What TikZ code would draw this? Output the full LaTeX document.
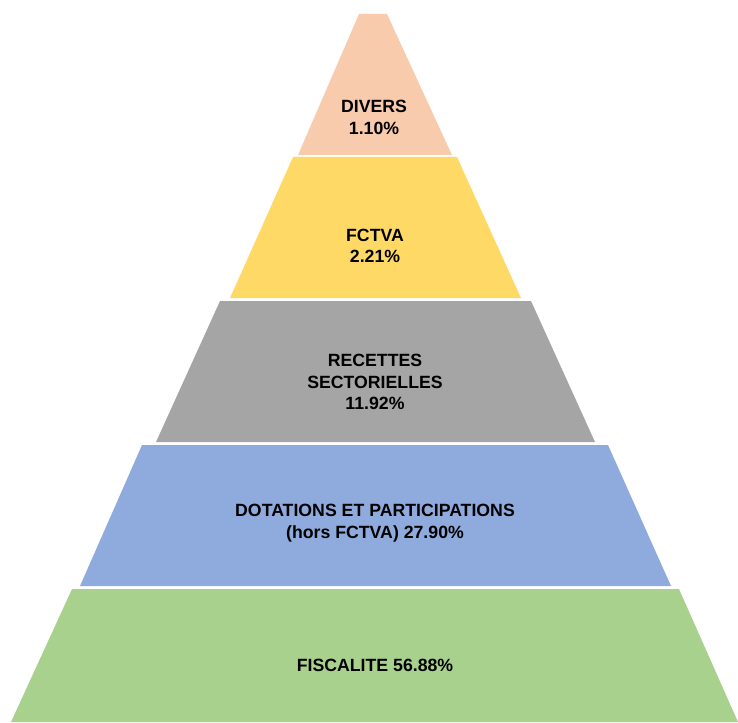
\documentclass[tikz,border=0pt]{standalone}
\usepackage{fontspec}
\setmainfont{Liberation Sans}
\definecolor{peach}{HTML}{F8CBAD}
\definecolor{gold}{HTML}{FFD966}
\definecolor{stone}{HTML}{A5A5A5}
\definecolor{sky}{HTML}{8FAADC}
\definecolor{leaf}{HTML}{A9D18E}
\tikzstyle{lvltext} = [align=center, inner sep=0pt, font={\bfseries\fontsize{17.7}{21.7}\selectfont}]

\begin{document}
\begin{tikzpicture}[x=1pt,y=-1pt]
    \useasboundingbox (0,0) rectangle (738,722);
    \fill[peach] (359,14) -- (387,14) -- (452,155) -- (298,155) -- cycle;
    \fill[gold] (293,157) -- (457,157) -- (521,298) -- (230,298) -- cycle;
    \fill[stone] (220,301) -- (531,301) -- (595,442) -- (156,442) -- cycle;
    \fill[sky] (142,445) -- (608,445) -- (671,586) -- (80,586) -- cycle;
    \fill[leaf] (72,589) -- (679,589) -- (738,722) -- (11,722) -- cycle;
    \node[lvltext](divers) at (374,117.5){DIVERS\\1.10\%};
    \node[lvltext](fctva) at (375,246){FCTVA\\2.21\%};
    \node[lvltext](recettes) at (375,382){RECETTES\\SECTORIELLES\\11.92\%};
    \node[lvltext](dotations) at (375,523){DOTATIONS ET PARTICIPATIONS\\(hors FCTVA) 27.90\%};
    \node[lvltext](fiscalite) at (375,665){FISCALITE 56.88\%};
  \end{tikzpicture}
\end{document}
